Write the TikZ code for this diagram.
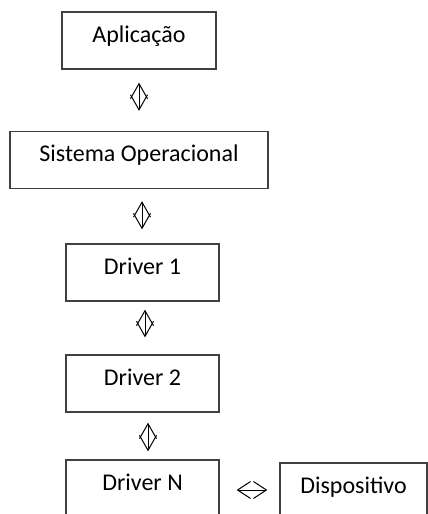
\documentclass[tikz,border=0pt]{standalone}
\usepackage{fontspec}
\setmainfont{Carlito}
\definecolor{box_gray}{RGB}{64, 64, 64}
\usetikzlibrary{arrows.meta}

\begin{document}
\begin{tikzpicture}[x=1pt, y=-1pt,
        blk/.style={rectangle, draw=box_gray, line width=1.3pt, inner sep=0pt,
                    minimum height=57pt, text height=30pt, text depth=27pt,
                    font=\fontsize{24pt}{28pt}\selectfont, align=center},
        arr/.style={{Straight Barb[length=15pt, width=17pt]}-{Straight Barb[length=15pt, width=17pt]},
                    black, line width=1pt},
      ]
        \useasboundingbox (0,0) rectangle (428,514);
        \clip (0,0) rectangle (428,514);

        \node[blk, minimum width=154pt] (app) at (139, 40.5) {Aplicação};
        \node[blk, minimum width=258pt] (so) at (139, 160) {Sistema Operacional};
        \node[blk, minimum width=153pt] (d1) at (142.5, 272.5) {Driver 1};
        \node[blk, minimum width=153pt] (d2) at (142.5, 383.5) {Driver 2};
        \node[blk, minimum width=153pt] (dn) at (142.5, 488.5) {Driver N};
        \node[blk, minimum width=147pt] (disp) at (353.5, 491.5) {Dispositivo};

        \draw[arr, shorten <=13pt, shorten >=20pt] (app.south) -- (app.south |- so.north);
        \draw[arr, shorten <=12pt, shorten >=14pt] ([xshift=3pt]so.south) -- ([xshift=3pt]so.south |- d1.north);
        \draw[arr, shorten <=8pt, shorten >=17pt] ([xshift=2.5pt]d1.south) -- ([xshift=2.5pt]d1.south |- d2.north);
        \draw[arr, shorten <=10pt, shorten >=8pt] ([xshift=5.5pt]d2.south) -- ([xshift=5.5pt]d2.south |- dn.north);
        \draw[arr, {Straight Barb[length=13pt, width=17pt]}-{Straight Barb[length=13pt, width=17pt]},
              shorten <=17pt, shorten >=12pt] ([yshift=-1.5pt]dn.east) -- ([yshift=-1.5pt]dn.east -| disp.west);
      \end{tikzpicture}
\end{document}
